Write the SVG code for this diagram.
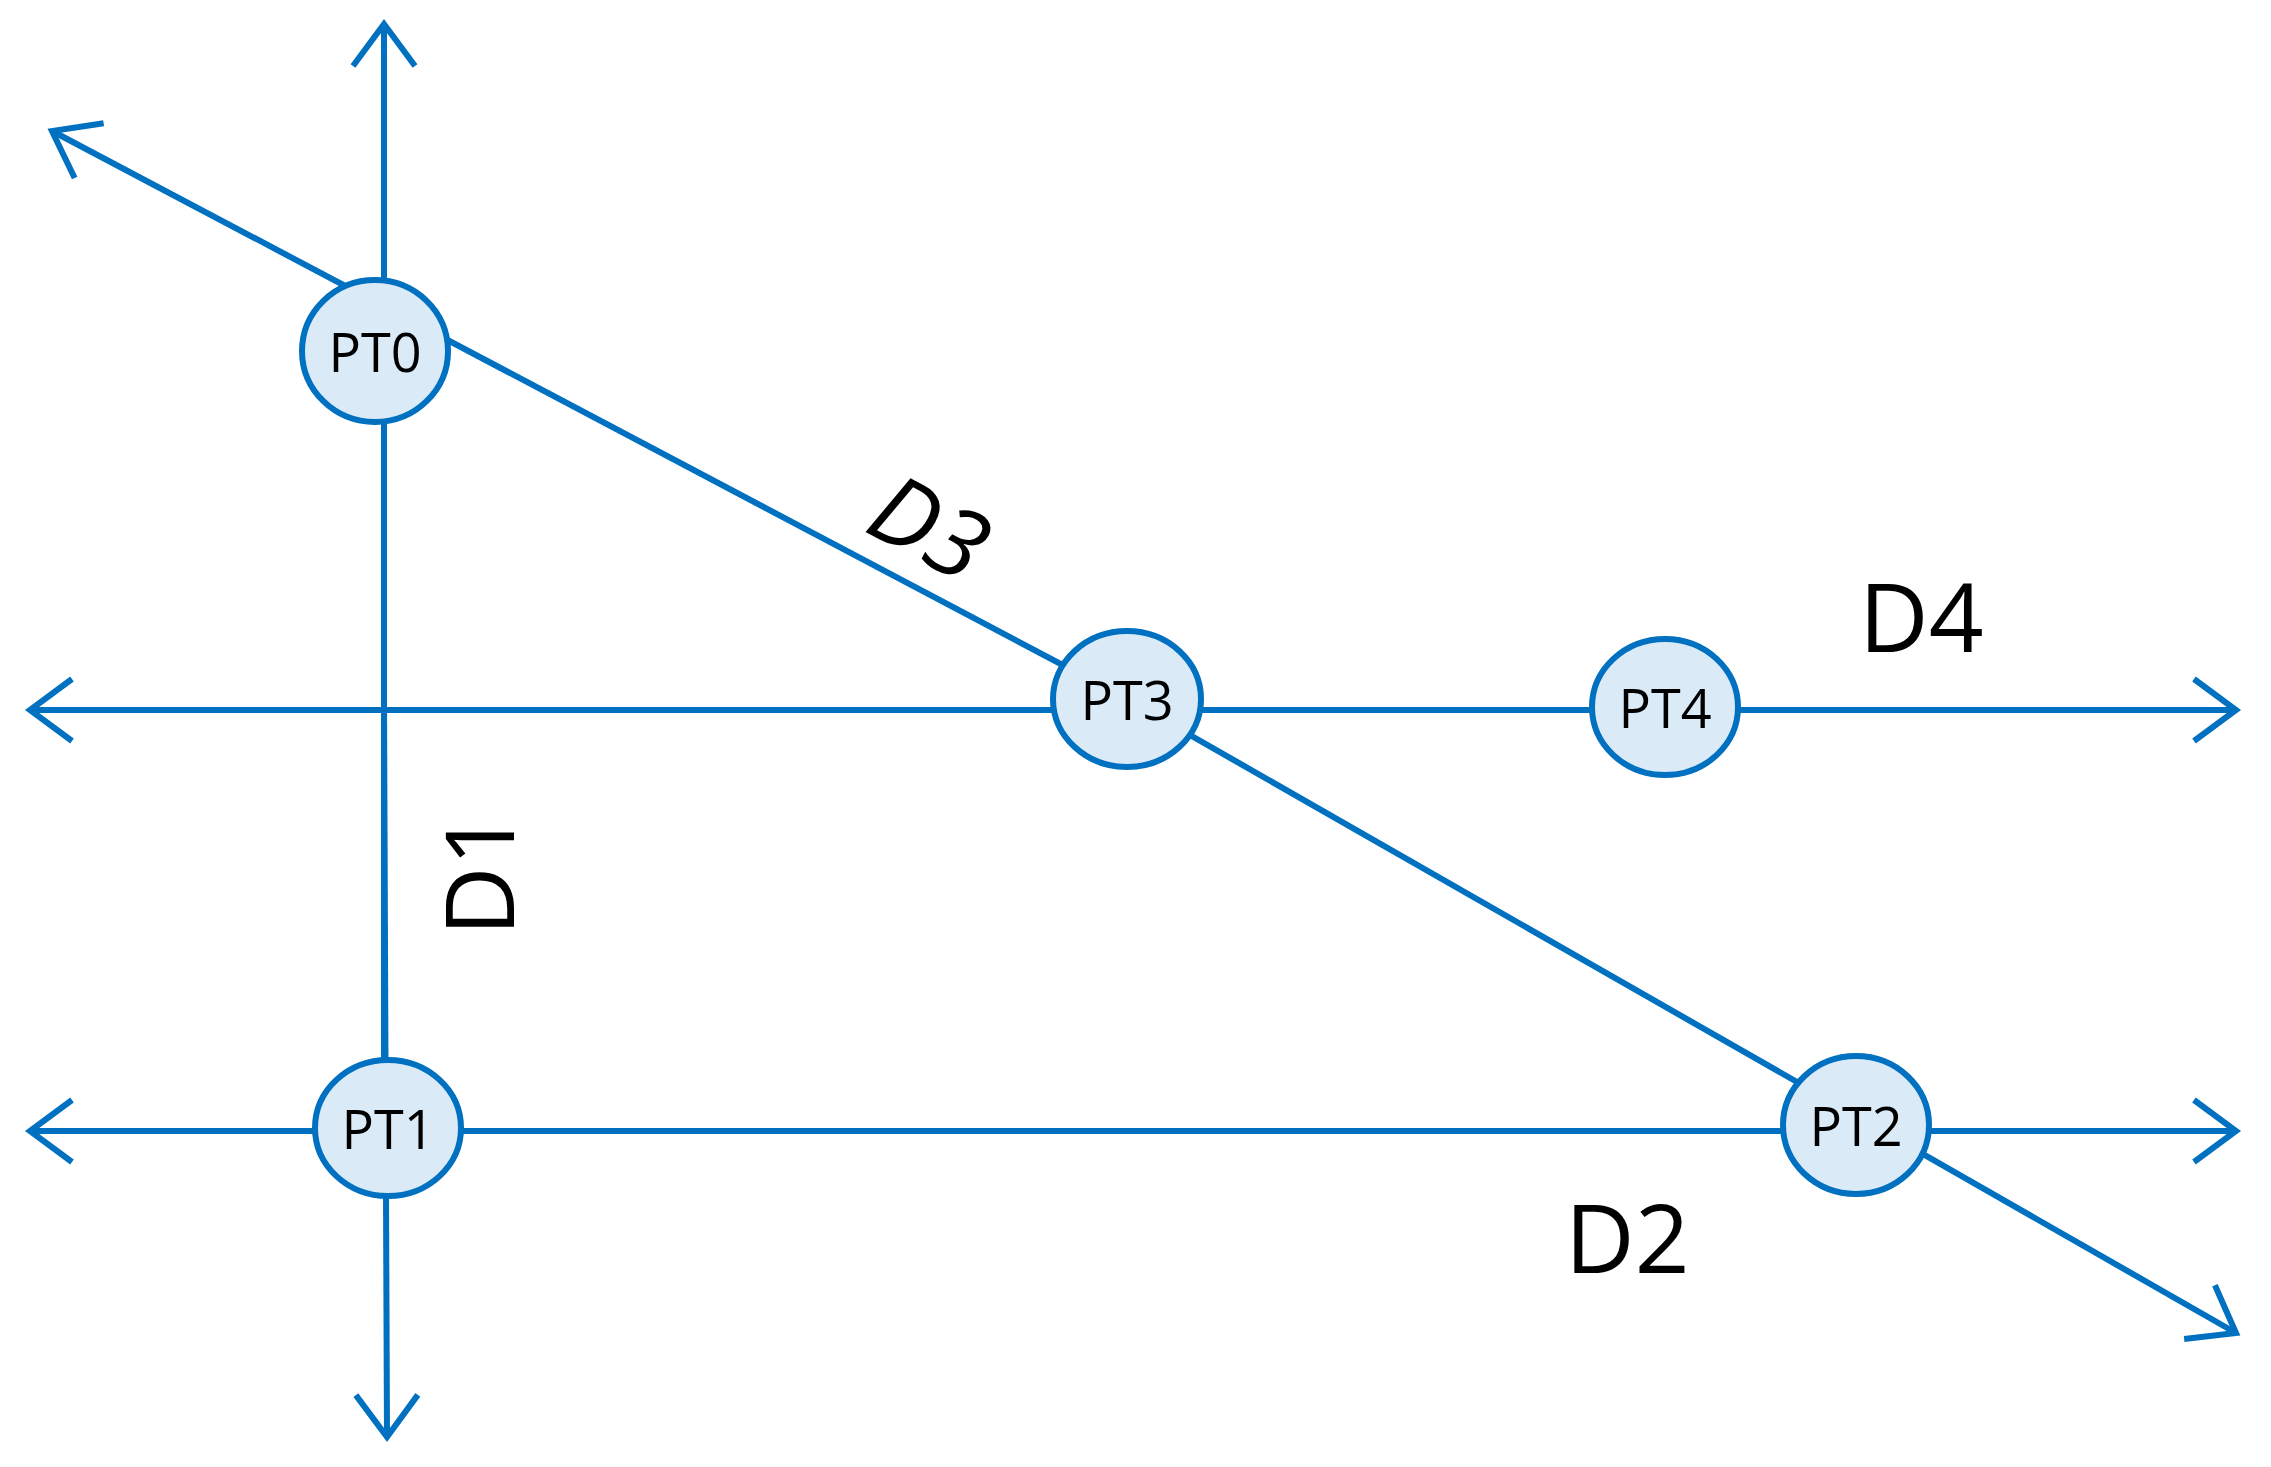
<svg xmlns="http://www.w3.org/2000/svg" width="2271" height="1467" viewBox="0 0 2271 1467">
<style>
.ln{stroke:#0070C0;stroke-width:6;fill:none}
.nd{fill:#DAEAF7;stroke:#0070C0;stroke-width:6}
.nt{font-family:"Open Sans","Liberation Sans",sans-serif;font-size:54px;fill:#000;text-anchor:middle;dominant-baseline:central}
.lb{font-family:"Open Sans","Liberation Sans",sans-serif;font-size:96px;fill:#000}
</style>
<defs>
<marker id="ar" markerUnits="userSpaceOnUse" markerWidth="60" markerHeight="80" viewBox="-50 -40 60 80" refX="0" refY="0" orient="auto">
<path d="M-42,-31 L0,0 L-42,31" fill="none" stroke="#0070C0" stroke-width="6"/>
</marker>
</defs>
<rect width="2271" height="1467" fill="#fff"/>
<g id="connectors">
<line class="ln" x1="384" y1="1100" x2="384" y2="24" marker-end="url(#ar)"/>
<line class="ln" x1="384" y1="700" x2="387" y2="1437" marker-end="url(#ar)"/>
<line class="ln" x1="1127" y1="710" x2="30" y2="710" marker-end="url(#ar)"/>
<line class="ln" x1="1127" y1="710" x2="2236" y2="710" marker-end="url(#ar)"/>
<line class="ln" x1="1100" y1="1131" x2="30" y2="1131" marker-end="url(#ar)"/>
<line class="ln" x1="1100" y1="1131" x2="2236" y2="1131" marker-end="url(#ar)"/>
<line class="ln" x1="1127" y1="699" x2="52" y2="131" marker-end="url(#ar)"/>
<line class="ln" x1="1127" y1="699" x2="2236" y2="1333" marker-end="url(#ar)"/>
</g>
<g id="PT0"><ellipse class="nd" cx="375" cy="351" rx="73" ry="71"/><text class="nt" x="375" y="351">PT0</text></g>
<g id="PT3"><ellipse class="nd" cx="1127" cy="699" rx="74" ry="68"/><text class="nt" x="1127" y="699">PT3</text></g>
<g id="PT4"><ellipse class="nd" cx="1665" cy="707" rx="73" ry="68"/><text class="nt" x="1665" y="707">PT4</text></g>
<g id="PT1"><ellipse class="nd" cx="388" cy="1128" rx="73" ry="68"/><text class="nt" x="388" y="1128">PT1</text></g>
<g id="PT2"><ellipse class="nd" cx="1856" cy="1125" rx="73" ry="69"/><text class="nt" x="1856" y="1125">PT2</text></g>
<g id="labels">
<text class="lb" x="0" y="0" font-style="italic" transform="translate(862,530) rotate(28)">D<tspan font-size="96">3</tspan></text>
<text class="lb" x="1859" y="652">D4</text>
<text class="lb" x="1565" y="1273">D2</text>
<text class="lb" x="0" y="0" transform="translate(514,936) rotate(-90)">D1</text>
</g>
</svg>
